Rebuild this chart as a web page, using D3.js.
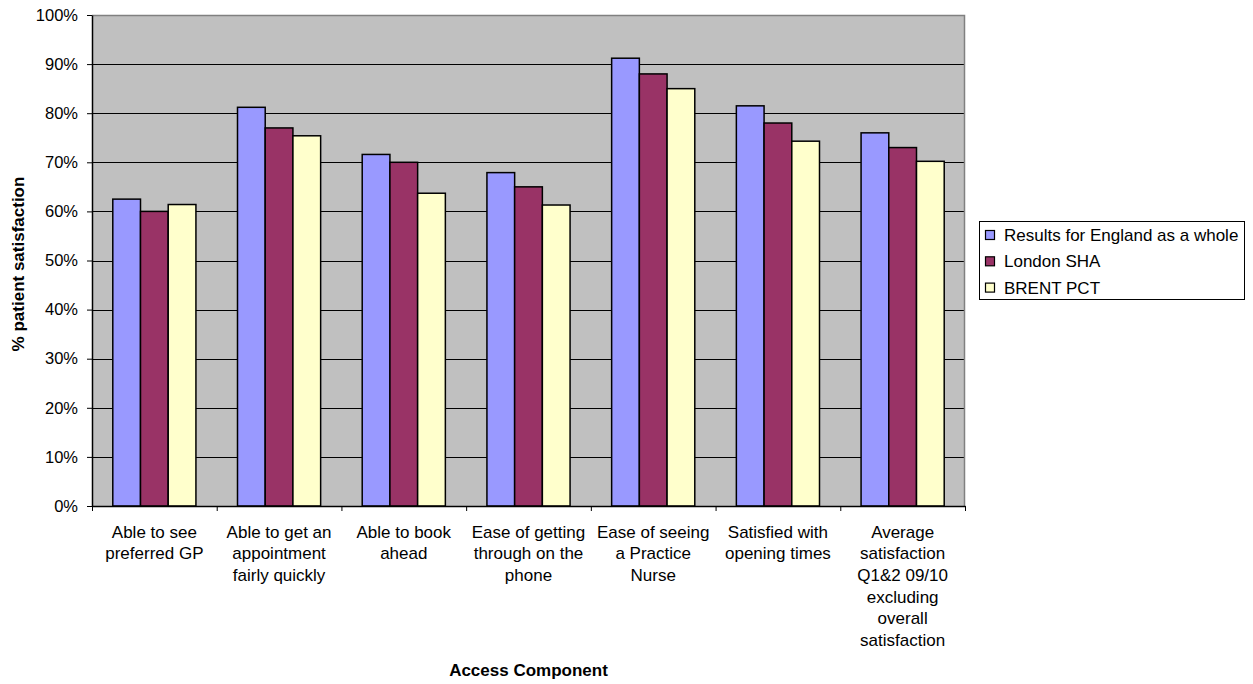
<!DOCTYPE html>
<html><head><meta charset="utf-8">
<script src="https://cdn.jsdelivr.net/npm/d3@7/dist/d3.min.js"></script>
<style>body{margin:0;background:#fff;} svg{display:block;font-family:Arial,"Liberation Sans",sans-serif;}</style>
</head><body>
<script>
const categories = [
  ["Able to see","preferred GP"],
  ["Able to get an","appointment","fairly quickly"],
  ["Able to book","ahead"],
  ["Ease of getting","through on the","phone"],
  ["Ease of seeing","a Practice","Nurse"],
  ["Satisfied with","opening times"],
  ["Average","satisfaction","Q1&2 09/10","excluding","overall","satisfaction"]
];
const seriesNames = ["Results for England as a whole","London SHA","BRENT PCT"];
const england = [62.5, 81.2, 71.6, 67.9, 91.2, 81.5, 76.0];
const london  = [60.0, 77.0, 70.0, 65.0, 88.0, 78.0, 73.0];
const brent   = [61.4, 75.4, 63.7, 61.3, 85.0, 74.3, 70.2];
const colors = ["#9999FF","#993366","#FFFFCC"];
const yTicks = [0,10,20,30,40,50,60,70,80,90,100];

const W=1253,H=684;
const m={l:92,t:15,r:965,b:506};
const svg=d3.select("body").append("svg").attr("width",W).attr("height",H);

const x0=d3.scaleBand().domain(d3.range(categories.length)).range([m.l,m.r]).paddingInner(0).paddingOuter(0);
const x1=d3.scaleBand().domain(d3.range(3)).range([0,x0.bandwidth()]).paddingOuter(0.75).paddingInner(0);
const y=d3.scaleLinear().domain([0,100]).range([m.b,m.t]);

svg.append("rect").attr("x",m.l).attr("y",m.t).attr("width",m.r-m.l).attr("height",m.b-m.t).attr("fill","#C0C0C0");

// gridlines
svg.append("g").selectAll("line").data(yTicks.filter(d=>d>0&&d<100)).join("line")
  .attr("x1",m.l).attr("x2",m.r).attr("y1",d=>Math.round(y(d))+0.5).attr("y2",d=>Math.round(y(d))+0.5)
  .attr("stroke","#000").attr("stroke-width",1);
// border top/right
svg.append("path").attr("d",`M${m.l},${m.t+0.5}H${m.r-0.5}V${m.b}`).attr("fill","none").attr("stroke","#808080").attr("stroke-width",1.5);

const data=[england,london,brent];
const g=svg.append("g");
data.forEach((vals,s)=>{
  g.selectAll(null).data(vals).join("rect")
   .attr("x",(d,i)=>x0(i)+x1(s))
   .attr("y",d=>y(d))
   .attr("width",x1.bandwidth())
   .attr("height",d=>y(0)-y(d))
   .attr("fill",colors[s]).attr("stroke","#000").attr("stroke-width",1.5);
});

// y axis
const ya=svg.append("g").attr("transform",`translate(${m.l},0)`)
  .call(d3.axisLeft(y).tickValues(yTicks).tickFormat(d=>d+"%").tickSize(5).tickSizeOuter(0));
ya.select(".domain").attr("stroke","#000").attr("stroke-width",1.5);
ya.selectAll(".tick line").attr("stroke","#000");
ya.selectAll(".tick text").attr("font-size",16.5).attr("font-family","Arial").attr("fill","#000").attr("x",-14);

// x axis
const xa=svg.append("g").attr("transform",`translate(0,${m.b})`)
  .call(d3.axisBottom(d3.scaleLinear().domain([0,7]).range([m.l,m.r])).tickValues(d3.range(8)).tickFormat("").tickSize(5).tickSizeOuter(0));
xa.select(".domain").attr("stroke","#000").attr("stroke-width",1.5);
xa.selectAll(".tick line").attr("stroke","#000");

// category labels
categories.forEach((lines,i)=>{
  const t=svg.append("text").attr("text-anchor","middle").attr("font-size",17).attr("fill","#000");
  lines.forEach((ln,j)=>{
    t.append("tspan").attr("x",x0(i)+x0.bandwidth()/2).attr("y",537.5+j*21.7).text(ln);
  });
});

// axis titles
svg.append("text").attr("x",528.5).attr("y",676).attr("text-anchor","middle")
  .attr("font-size",17).attr("font-weight","bold").text("Access Component");
svg.append("text").attr("transform",`translate(24,264) rotate(-90)`).attr("text-anchor","middle")
  .attr("font-size",17).attr("font-weight","bold").text("% patient satisfaction");

// legend
const lg=svg.append("g");
lg.append("rect").attr("x",979.5).attr("y",221.5).attr("width",265).attr("height",78).attr("fill","#fff").attr("stroke","#000").attr("stroke-width",1);
seriesNames.forEach((n,i)=>{
  const cy=235+i*26.3;
  lg.append("rect").attr("x",985.5).attr("y",cy-4.5).attr("width",9).attr("height",9).attr("fill",colors[i]).attr("stroke","#000").attr("stroke-width",1.2);
  lg.append("text").attr("x",1004).attr("y",cy+6).attr("font-size",17).text(n);
});
</script>
</body></html>
